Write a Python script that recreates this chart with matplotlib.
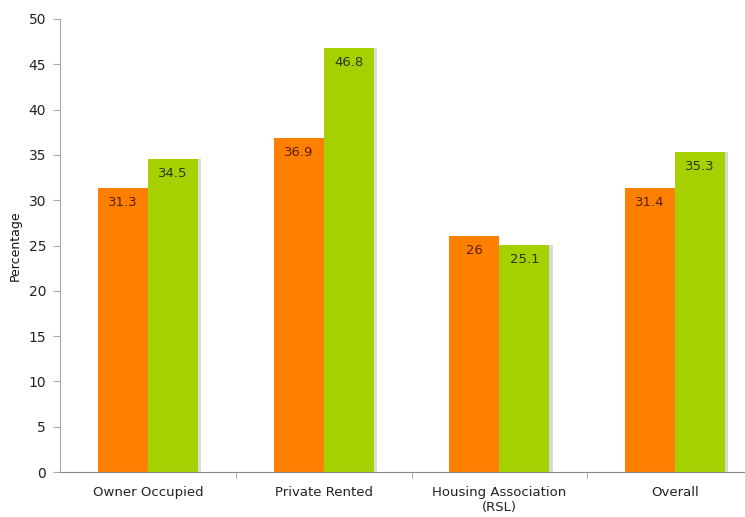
import matplotlib
matplotlib.use("Agg")
import matplotlib.pyplot as plt
import numpy as np

categories = ["Owner Occupied", "Private Rented", "Housing Association\n(RSL)", "Overall"]
series_a = [31.3, 36.9, 26.0, 31.4]
series_b = [34.5, 46.8, 25.1, 35.3]
labels_a = ["31.3", "36.9", "26", "31.4"]
labels_b = ["34.5", "46.8", "25.1", "35.3"]
yticks = [0, 5, 10, 15, 20, 25, 30, 35, 40, 45, 50]

orange = "#FF7F00"
green = "#A6D100"

fig = plt.figure(figsize=(7.45, 5.17), dpi=100)
ax = fig.add_axes([60/745, 45/517, 703/745, 453/517])

x = np.arange(len(categories))
w = 0.285
off = w / 2
shadow = 0.018

# shadows
ax.bar(x + off + shadow, series_b, w, color="#d9d9d9", zorder=1, linewidth=0)
ax.bar(x - off, series_a, w, color=orange, zorder=2, linewidth=0)
ax.bar(x + off, series_b, w, color=green, zorder=2, linewidth=0)

for xi, v, t in zip(x, series_a, labels_a):
    ax.text(xi - off, v - 1.6, t, ha="center", va="center", fontsize=9.5,
            color="#5a1e00", zorder=3)
for xi, v, t in zip(x, series_b, labels_b):
    ax.text(xi + off, v - 1.6, t, ha="center", va="center", fontsize=9.5,
            color="#2b3a00", zorder=3)

ax.set_xlim(-0.5, len(categories) - 0.5)
ax.set_ylim(0, 50)
ax.set_yticks(yticks)
ax.set_yticklabels([str(t) for t in yticks], fontsize=10, color="#222222")
ax.set_xticks(x)
ax.set_xticklabels(categories, fontsize=9.5, color="#222222")
ax.set_xticks(np.arange(0.5, len(categories) - 0.5, 1), minor=True)
ax.tick_params(axis="x", which="major", length=0, pad=10)
ax.tick_params(axis="x", which="minor", length=4, color="#999999", direction="out")
ax.tick_params(axis="y", length=5, color="#aaaaaa", pad=5)

for s in ["top", "right"]:
    ax.spines[s].set_visible(False)
ax.spines["left"].set_color("#aaaaaa")
ax.spines["bottom"].set_color("#888888")

ax.set_ylabel("Percentage", fontsize=9, color="#111111", labelpad=5)

fig.savefig("out.png", dpi=100)
